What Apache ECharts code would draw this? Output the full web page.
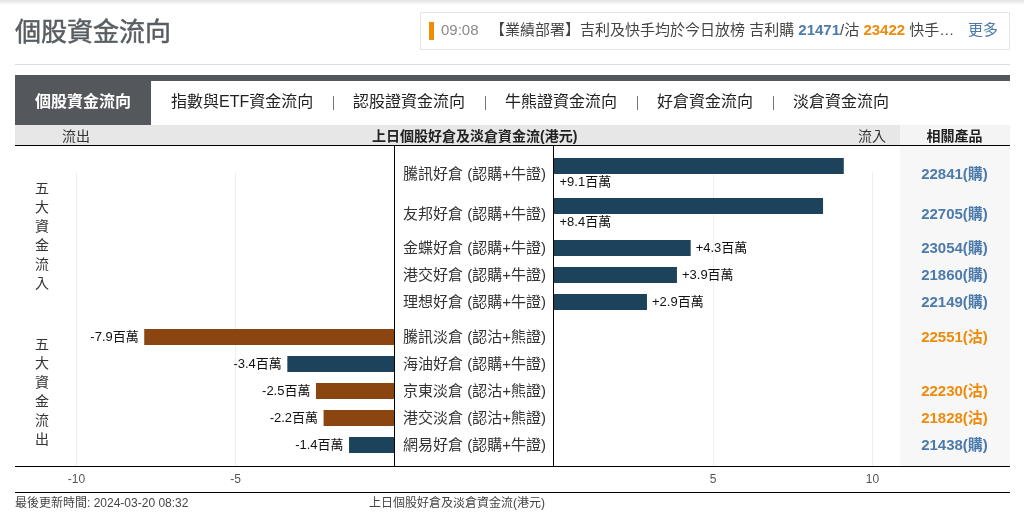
<!DOCTYPE html>
<html><head><meta charset="utf-8">
<style>html,body{margin:0;padding:0;background:#fff}#c{width:1024px;height:525px}</style>
<script src="https://cdn.jsdelivr.net/npm/echarts@6/dist/echarts.min.js"></script>
</head><body><div id="c"></div>
<script>
const inflowNames=['騰訊好倉 (認購+牛證)','友邦好倉 (認購+牛證)','金蝶好倉 (認購+牛證)','港交好倉 (認購+牛證)','理想好倉 (認購+牛證)'];
const inflowValues=[9.1,8.45,4.3,3.87,2.93];
const inflowProducts=['22841(購)','22705(購)','23054(購)','21860(購)','22149(購)'];
const outflowNames=['騰訊淡倉 (認沽+熊證)','海油好倉 (認購+牛證)','京東淡倉 (認沽+熊證)','港交淡倉 (認沽+熊證)','網易好倉 (認購+牛證)'];
const outflowValues=[-7.87,-3.37,-2.47,-2.23,-1.43];
const outflowProducts=['22551(沽)',' ','22230(沽)','21828(沽)','21438(購)'];
const tabs=['指數與ETF資金流向','認股證資金流向','牛熊證資金流向','好倉資金流向','淡倉資金流向'];

const FF="'Liberation Sans','Noto Sans CJK TC',sans-serif";
const BLUE='#4c7bab',ORANGE='#ee8b0c',BULL='#1d435c',BEAR='#8b4510',LINE='#000';
const LX0=76.5,LX1=394.5,RX0=553.5,RX1=872.5;

function barColor(n){return n.indexOf('好倉')>=0?BULL:BEAR;}
function sign(v){return (v>0?'+':'')+v.toFixed(1)+'百萬';}
const grids=[],xAxes=[],yAxes=[],series=[];
function bgGrid(x0,x1,min,max){
  const i=grids.length;
  grids.push({left:x0,width:x1-x0,top:172.5,height:293.5});
  xAxes.push({type:'value',gridIndex:i,min:min,max:max,interval:5,position:'bottom',
    axisLine:{show:false},axisTick:{show:false},
    splitLine:{show:true,lineStyle:{color:'#eeeeee',width:1}},
    axisLabel:{margin:8,fontFamily:FF,fontSize:12,color:'#555',formatter:v=>v===0?'':String(v)}});
  const yi=yAxes.length;
  yAxes.push({type:'category',gridIndex:i,data:[''],show:false});
  series.push({type:'bar',xAxisIndex:xAxes.length-1,yAxisIndex:yi,data:[],silent:true});
}
function rowGrid(x0,x1,min,max,top,height,names,values,products,side,below){
  // bars
  let i=grids.length;
  grids.push({left:x0,width:x1-x0,top:top,height:height});
  xAxes.push({type:'value',gridIndex:i,min:min,max:max,show:false});
  const yBar=yAxes.length;
  yAxes.push({type:'category',gridIndex:i,inverse:true,data:names,show:false});
  series.push({type:'bar',xAxisIndex:xAxes.length-1,yAxisIndex:yBar,barWidth:16,silent:true,
    data:values.map((v,k)=>({value:v,itemStyle:{color:barColor(names[k])},
      label:{show:true,formatter:sign(v),fontFamily:FF,fontSize:13,color:'#111',
        position:below?[6,18]:(v<0?'left':'right'),distance:v<0?5.5:5}}))});
  // row captions, sitting slightly lower than the bars
  i=grids.length;
  grids.push({left:x0,width:x1-x0,top:top+(below?9:1),height:height});
  xAxes.push({type:'value',gridIndex:i,min:min,max:max,show:false});
  const yName=yAxes.length;
  yAxes.push({type:'category',gridIndex:i,inverse:true,data:names,position:side==='in'?'left':'right',
    axisLine:{show:false},axisTick:{show:false},splitLine:{show:false},
    axisLabel:{align:'left',margin:side==='in'?150.5:8.5,fontFamily:FF,fontSize:15,color:'#333'}});
  yAxes.push({type:'category',gridIndex:i,inverse:true,data:products,position:'right',
    offset:side==='in'?82:560,
    axisLine:{show:false},axisTick:{show:false},splitLine:{show:false},
    axisLabel:{align:'center',margin:0,fontFamily:FF,fontSize:15,fontWeight:'bold',
      color:v=>v.indexOf('沽')>=0?ORANGE:BLUE}});
  series.push({type:'bar',xAxisIndex:xAxes.length-1,yAxisIndex:yName,data:[],silent:true});
}
bgGrid(LX0,LX1,-10,0);
bgGrid(RX0,RX1,0,10);
rowGrid(RX0,RX1,0,10,146,80,inflowNames.slice(0,2),inflowValues.slice(0,2),inflowProducts.slice(0,2),'in',true);
rowGrid(RX0,RX1,0,10,234.5,81,inflowNames.slice(2),inflowValues.slice(2),inflowProducts.slice(2),'in',false);
rowGrid(LX0,LX1,-10,0,323.5,135,outflowNames,outflowValues,outflowProducts,'out',false);

function rect(x,y,w,h,fill,z){return {type:'rect',silent:true,z:z||0,shape:{x,y,width:w,height:h},style:{fill}};}
function text(x,y,t,o){return {type:'text',silent:true,z:5,x,y,style:Object.assign({text:t,fontFamily:FF,fontSize:14,fill:'#333',verticalAlign:'middle',align:'left'},o||{})};}
const g=[];
g.push({type:'rect',silent:true,z:0,shape:{x:0,y:0,width:1024,height:5},
  style:{fill:new echarts.graphic.LinearGradient(0,0,0,1,[{offset:0,color:'#e2e2e2'},{offset:1,color:'#ffffff'}])}});
g.push(text(15,31,'個股資金流向',{fontSize:26,fill:'#585d62',stroke:'#585d62',lineWidth:0.5,fontFamily:"'Noto Sans CJK TC',sans-serif"}));
g.push({type:'rect',silent:true,z:1,shape:{x:420.5,y:12.5,width:589,height:37},style:{fill:'#fff',stroke:'#e4e4e4',lineWidth:1}});
g.push(rect(429,22,5,18,'#ef8e00',2));
g.push(text(441,31,'09:08',{fontSize:15,fill:'#8a8a8a'}));
g.push(text(490,31,'{a|【業績部署】吉利及快手均於今日放榜 吉利購 }{b|21471}{a|/沽 }{c|23422}{a| 快手…}',{
  rich:{a:{fontSize:15,fill:'#444',fontFamily:FF},b:{fontSize:15,fontWeight:'bold',fill:BLUE,fontFamily:FF},c:{fontSize:15,fontWeight:'bold',fill:ORANGE,fontFamily:FF}}}));
g.push(text(968,31,'更多',{fontSize:15,fill:BLUE}));
g.push(rect(15,64,995,1,'#dddddd'));
g.push(rect(15,75,995,6,'#54585c'));
g.push(rect(15,75,136,50,'#54585c'));
g.push(text(35,103,'個股資金流向',{fontSize:16,fontWeight:'bold',fill:'#fff'}));
const tabX=[171,353,505,657,793],sepX=[333,485,637,773];
tabs.forEach((t,i)=>g.push(text(tabX[i],103,t,{fontSize:16,fill:'#222'})));
sepX.forEach(x=>g.push(rect(x,96,1,14,'#777')));
g.push(rect(15,125,885,20,'#e7e7e7'));
g.push(rect(900,125,110,20,'#f4f4f4'));
g.push(rect(900,146,110,320,'#f7f7f7'));
g.push(text(62,137,'流出',{fontSize:14,fill:'#333'}));
g.push(text(372,137,'上日個股好倉及淡倉資金流(港元)',{fontSize:14,fontWeight:'bold',fill:'#222'}));
g.push(text(858,137,'流入',{fontSize:14,fill:'#333'}));
g.push(text(954.5,137,'相關產品',{fontSize:14,fontWeight:'bold',fill:'#222',align:'center'}));
g.push(rect(15,145,995,1,LINE,3));
g.push(rect(394,145,1,321,LINE,3));
g.push(rect(553,145,1,321,LINE,3));
g.push(rect(15,466,995,1,LINE,3));
g.push(rect(15,492,995,1,LINE,3));
g.push(text(42,237,'五\n大\n資\n金\n流\n入',{fontSize:14,lineHeight:19,align:'center',fill:'#333'}));
g.push(text(42,393,'五\n大\n資\n金\n流\n出',{fontSize:14,lineHeight:19,align:'center',fill:'#333'}));
g.push(text(15,503.5,'最後更新時間: 2024-03-20 08:32',{fontSize:12,fill:'#444'}));
g.push(text(369,503.5,'上日個股好倉及淡倉資金流(港元)',{fontSize:12,fill:'#444'}));

const chart=echarts.init(document.getElementById('c'),null,{width:1024,height:525});
chart.setOption({animation:false,backgroundColor:'#fff',tooltip:{show:false},legend:{show:false},
  grid:grids,xAxis:xAxes,yAxis:yAxes,series:series,graphic:{elements:g}});
</script></body></html>
